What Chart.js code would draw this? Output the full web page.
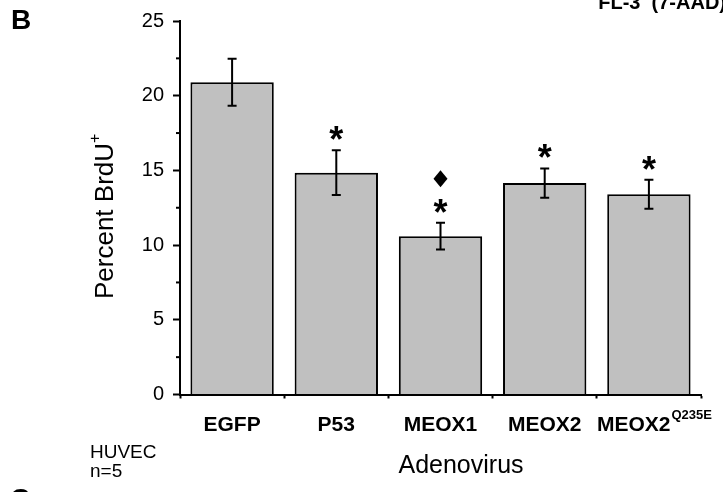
<!DOCTYPE html>
<html>
<head>
<meta charset="utf-8">
<script src="https://cdn.jsdelivr.net/npm/chart.js@4"></script>
<style>
  html, body { margin: 0; padding: 0; background: #fff; }
  #wrap { width: 723px; height: 492px; }
</style>
</head>
<body>
<div id="wrap"><canvas id="brdu" width="723" height="492"></canvas></div>
<script>
// values
const categories = ['EGFP', 'P53', 'MEOX1', 'MEOX2', 'MEOX2'];
const superscripts = ['', '', '', '', 'Q235E'];
const means = [20.9, 14.85, 10.6, 14.15, 13.4];
const errors = [1.58, 1.5, 0.9, 0.98, 0.97];
const stars = [false, true, true, true, true];
const diamonds = [false, false, true, false, false];
const yMax = 25;
const yStep = 2.5;

const FONT = '"Liberation Sans", Arial, sans-serif';

const annotate = {
  id: 'annotate',
  afterDatasetsDraw(chart) {
    const ctx = chart.ctx;
    const x = chart.scales.x;
    const y = chart.scales.y;
    ctx.save();
    ctx.strokeStyle = '#000';
    ctx.fillStyle = '#000';
    ctx.lineWidth = 2;

    for (let i = 0; i < means.length; i++) {
      const cx = x.getPixelForValue(i);
      const top = y.getPixelForValue(means[i] + errors[i]);
      const bottom = y.getPixelForValue(means[i] - errors[i]);
      ctx.beginPath();
      ctx.moveTo(cx, top);
      ctx.lineTo(cx, bottom);
      ctx.moveTo(cx - 4.5, top);
      ctx.lineTo(cx + 4.5, top);
      ctx.moveTo(cx - 4.5, bottom);
      ctx.lineTo(cx + 4.5, bottom);
      ctx.stroke();

      if (stars[i]) {
        ctx.font = 'bold 36px ' + FONT;
        const m = ctx.measureText('*');
        const target = top - 17;
        const base = target + (m.actualBoundingBoxAscent - m.actualBoundingBoxDescent) / 2;
        ctx.textAlign = 'center';
        ctx.textBaseline = 'alphabetic';
        ctx.fillText('*', cx, base);
      }
      if (diamonds[i]) {
        const dy = top - 44;
        ctx.beginPath();
        ctx.moveTo(cx, dy - 8.5);
        ctx.lineTo(cx + 7, dy);
        ctx.lineTo(cx, dy + 8.5);
        ctx.lineTo(cx - 7, dy);
        ctx.closePath();
        ctx.fill();
      }
    }

    // minor y ticks
    for (let v = yStep; v < yMax; v += yStep * 2) {
      const py = y.getPixelForValue(v);
      ctx.beginPath();
      ctx.moveTo(x.left - 4, py);
      ctx.lineTo(x.left, py);
      ctx.stroke();
    }

    // category labels (with superscript)
    ctx.textBaseline = 'middle';
    ctx.textAlign = 'left';
    for (let i = 0; i < categories.length; i++) {
      const cx = x.getPixelForValue(i);
      ctx.font = 'bold 21px ' + FONT;
      const w1 = ctx.measureText(categories[i]).width;
      ctx.font = 'bold 13px ' + FONT;
      const w2 = superscripts[i] ? ctx.measureText(superscripts[i]).width : 0;
      const start = cx - (w1 + w2) / 2 + (w2 ? 5 : 0);
      ctx.font = 'bold 21px ' + FONT;
      ctx.fillText(categories[i], start, 425);
      if (superscripts[i]) {
        ctx.font = 'bold 13px ' + FONT;
        ctx.fillText(superscripts[i], start + w1 + 1, 415);
      }
    }

    // y title
    ctx.save();
    ctx.translate(106, 221);
    ctx.rotate(-Math.PI / 2);
    ctx.font = '26px ' + FONT;
    const tw = ctx.measureText('Percent BrdU').width;
    ctx.textAlign = 'left';
    ctx.fillText('Percent BrdU', -tw / 2, 0);
    ctx.font = '16px ' + FONT;
    ctx.fillText('+', tw / 2, -10);
    ctx.restore();

    // x title and notes
    ctx.font = '25px ' + FONT;
    ctx.textAlign = 'center';
    ctx.fillText('Adenovirus', 461, 466);
    ctx.textAlign = 'left';
    ctx.font = '19px ' + FONT;
    ctx.fillText('HUVEC', 90, 453);
    ctx.fillText('n=5', 90, 472);

    ctx.font = 'bold 28px ' + FONT;
    ctx.fillText('B', 11, 21);
    ctx.fillText('C', 10, 500);
    ctx.font = 'bold 20px ' + FONT;
    ctx.textAlign = 'right';
    ctx.textBaseline = 'alphabetic';
    ctx.fillText('FL-3  (7-AAD)', 726, 9);
    ctx.restore();
  }
};

new Chart(document.getElementById('brdu'), {
  type: 'bar',
  data: {
    labels: categories,
    datasets: [{
      label: 'Percent BrdU+',
      data: means,
      backgroundColor: '#c0c0c0',
      borderColor: '#000',
      borderWidth: 2,
      borderSkipped: 'bottom',
      categoryPercentage: 1.0,
      barPercentage: 0.8,
    }],
  },
  options: {
    responsive: false,
    animation: false,
    devicePixelRatio: 1,
    layout: {
      padding: { top: 19.5, right: 22, left: 0, bottom: 0 },
    },
    plugins: {
      legend: { display: false },
      tooltip: { enabled: false },
    },
    scales: {
      x: {
        offset: true,
        afterFit(scale) { scale.height = 97.5; },
        grid: {
          offset: true,
          drawOnChartArea: false,
          tickLength: 4,
          tickWidth: 2,
          tickColor: '#000',
        },
        border: { color: '#000', width: 2 },
        ticks: { display: false },
      },
      y: {
        min: 0,
        max: yMax,
        afterFit(scale) { scale.width = 180; },
        grid: {
          drawOnChartArea: false,
          tickLength: 7,
          tickWidth: 2,
          tickColor: (c) => (c.tick && c.tick.value % 5 === 0 ? '#000' : 'rgba(0,0,0,0)'),
        },
        border: { color: '#000', width: 2 },
        ticks: {
          stepSize: yStep,
          padding: 9,
          color: '#000',
          font: { family: FONT, size: 20 },
          callback: (v) => (v % 5 === 0 ? v : ''),
        },
      },
    },
  },
  plugins: [annotate],
});
</script>
</body>
</html>
